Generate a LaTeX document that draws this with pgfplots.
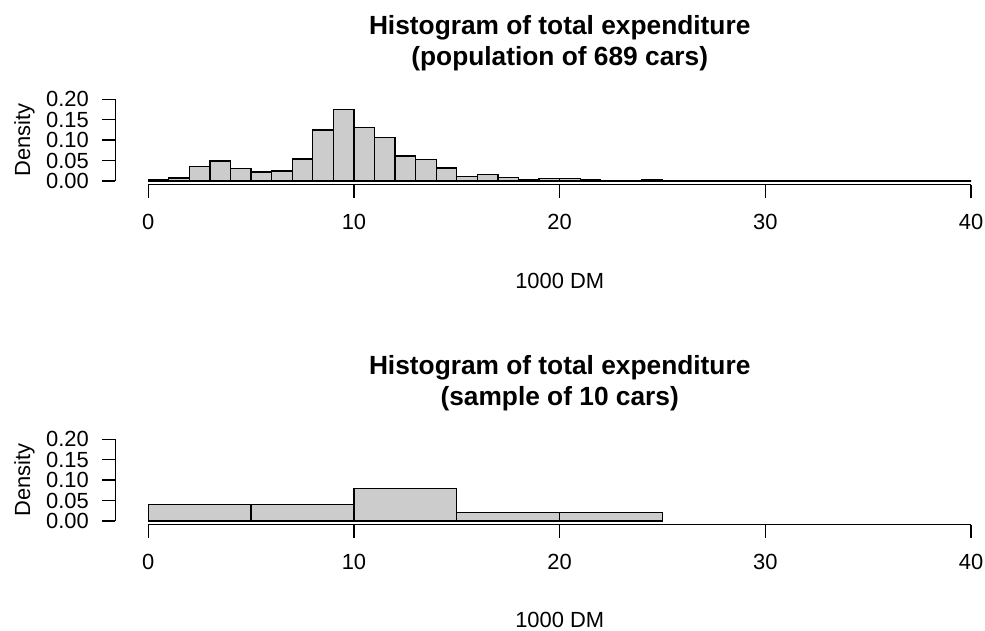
\documentclass[border=0pt]{standalone}
\usepackage{fontspec}
\setmainfont{Liberation Sans}
\usepackage{pgfplots}
\usepackage{pgfplotstable}
\pgfplotsset{compat=1.18}
\definecolor{barfill}{HTML}{CCCCCC}
\newcommand{\fs}{\fontsize{21.9bp}{26bp}\selectfont}
\newcommand{\ft}{\fontsize{26.3bp}{31.5bp}\selectfont\bfseries}

\pgfplotstableread{
x y
0 0.0029
1 0.0073
2 0.0348
3 0.0493
4 0.0305
5 0.0218
6 0.0247
7 0.0537
8 0.1248
9 0.1756
10 0.1306
11 0.1060
12 0.0610
13 0.0522
14 0.0319
15 0.0116
16 0.0160
17 0.0087
18 0.0044
19 0.0058
20 0.0058
21 0.0029
22 0.0015
23 0.0015
24 0.0029
25 0.0015
26 0.0015
27 0
28 0.0015
29 0.0015
30 0.0015
31 0
32 0
33 0
34 0
35 0
36 0
37 0
38 0
39 0
40 0
}\population

\pgfplotstableread{
x y
0 0.04
5 0.04
10 0.08
15 0.02
20 0.02
25 0
}\sample

\pgfplotsset{
 histax/.style={
  scale only axis, width=888.7bp, height=88.34bp,
  xmin=-1.6, xmax=41.6, ymin=-0.009, ymax=0.207,
  axis x line*=bottom, axis y line*=left,
  axis line style={draw=none},
  tick align=outside, major tick length=13.1bp,
  every tick/.style={black, line width=1.3bp},
  xtick={0,10,20,30,40},
  xticklabels={0,10,20,30,40},
  ytick={0,0.05,0.1,0.15,0.2},
  yticklabels={0.00,0.05,0.10,0.15,0.20},
  tick label style={font=\fs},
  /pgf/number format/assume math mode=true,
  xticklabel style={anchor=base, inner sep=0pt, yshift=-31.2bp},
  yticklabel style={anchor=east, inner sep=0pt, xshift=-13.2bp},
  clip=false,
 }
}

\begin{document}
\begin{tikzpicture}
\path[use as bounding box] (0,0) rectangle (985bp,-631bp);

% top panel
\begin{axis}[histax, at={(115.3bp,-184.7bp)}, anchor=south west]
\addplot[ybar interval, fill=barfill, draw=black, line width=1.3bp] table[x=x,y=y] {\population};
\draw[line width=1.3bp] (axis cs:0,-0.009) -- (axis cs:40,-0.009);
\draw[line width=1.3bp] (axis cs:-1.6,0) -- (axis cs:-1.6,0.2);
\end{axis}
\node[font=\ft, anchor=base, inner sep=0pt] at (559.7bp,-34.5bp) {Histogram of total expenditure};
\node[font=\ft, anchor=base, inner sep=0pt] at (559.7bp,-65.5bp) {(population of 689 cars)};
\node[font=\fs, anchor=base, inner sep=0pt] at (559.7bp,-288bp) {1000 DM};
\node[font=\fs, anchor=base, rotate=90, inner sep=0pt] at (30bp,-140.1bp) {Density};

% bottom panel
\begin{axis}[histax, at={(115.3bp,-524.7bp)}, anchor=south west]
\addplot[ybar interval, fill=barfill, draw=black, line width=1.3bp] table[x=x,y=y] {\sample};
\draw[line width=1.3bp] (axis cs:0,-0.009) -- (axis cs:40,-0.009);
\draw[line width=1.3bp] (axis cs:-1.6,0) -- (axis cs:-1.6,0.2);
\end{axis}
\node[font=\ft, anchor=base, inner sep=0pt] at (559.7bp,-374.5bp) {Histogram of total expenditure};
\node[font=\ft, anchor=base, inner sep=0pt] at (559.7bp,-405.5bp) {(sample of 10 cars)};
\node[font=\fs, anchor=base, inner sep=0pt] at (559.7bp,-627bp) {1000 DM};
\node[font=\fs, anchor=base, rotate=90, inner sep=0pt] at (30bp,-480.1bp) {Density};
\end{tikzpicture}
\end{document}
